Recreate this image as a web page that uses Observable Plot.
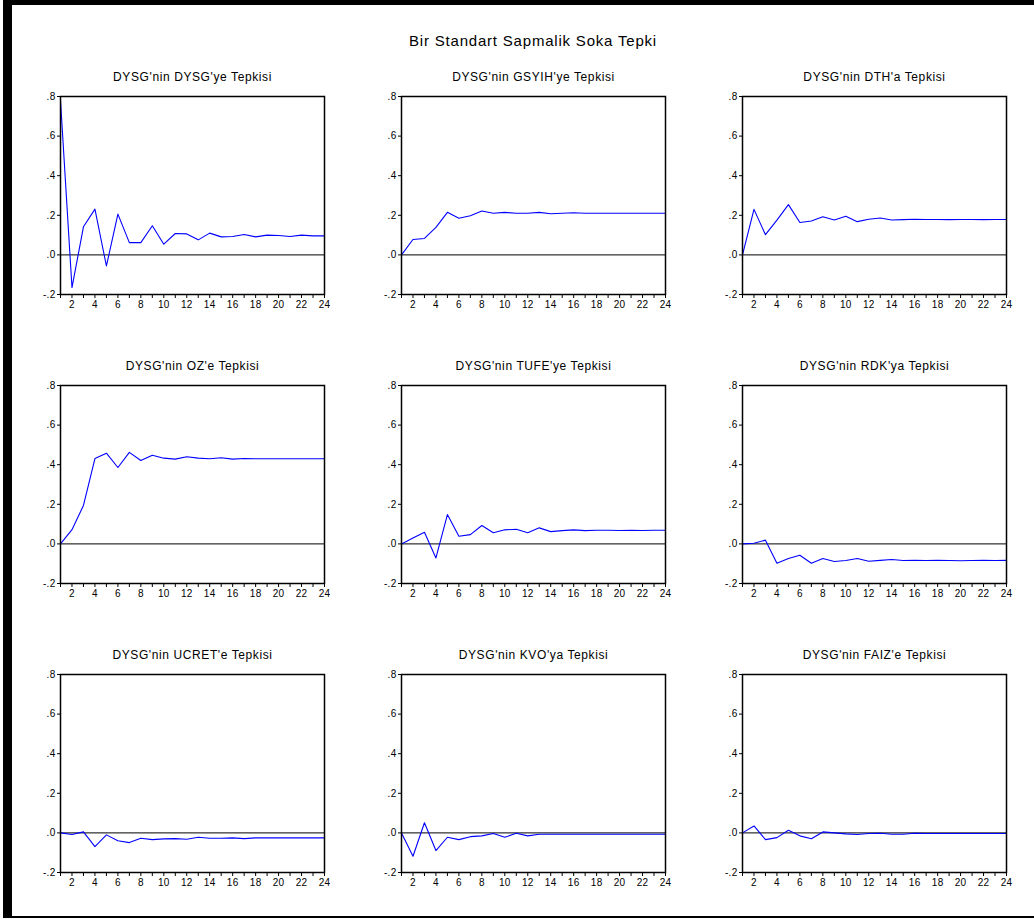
<!DOCTYPE html>
<html><head><meta charset="utf-8">
<script src="https://cdn.jsdelivr.net/npm/d3@7"></script>
<script src="https://cdn.jsdelivr.net/npm/@observablehq/plot@0.6"></script>
<style>
body{margin:0;background:#fff;font-family:"Liberation Sans",Arial,sans-serif;}
#page{position:relative;width:1034px;height:919px;overflow:hidden;background:#fff;}
#border{position:absolute;left:3px;top:0;width:1031px;height:918px;box-sizing:border-box;border-top:5px solid #000;border-left:9px solid #000;border-bottom:2px solid #000;}
#title{position:absolute;top:32px;left:0;width:1066px;text-align:center;font-size:15px;letter-spacing:0.8px;color:#000;}
.panel{position:absolute;}
.panel svg text{letter-spacing:0.3px;}
.panel svg g[aria-label='text'] text{letter-spacing:0.6px;}
</style>
</head><body>
<div id="page"><div id="border"></div><div id="title">Bir Standart Sapmalik Soka Tepki</div></div>
<script>
const mainTitle = "Bir Standart Sapmalik Soka Tepki";
const periods = d3.range(1, 25);
const yTicks = [-0.2, 0, 0.2, 0.4, 0.6, 0.8];
const panelTitles = [
  "DYSG'nin DYSG'ye Tepkisi", "DYSG'nin GSYIH'ye Tepkisi", "DYSG'nin DTH'a Tepkisi",
  "DYSG'nin OZ'e Tepkisi", "DYSG'nin TUFE'ye Tepkisi", "DYSG'nin RDK'ya Tepkisi",
  "DYSG'nin UCRET'e Tepkisi", "DYSG'nin KVO'ya Tepkisi", "DYSG'nin FAIZ'e Tepkisi"
];
const dysg  = [0.78,-0.165,0.142,0.231,-0.056,0.206,0.062,0.062,0.147,0.054,0.108,0.106,0.076,0.110,0.091,0.093,0.103,0.091,0.100,0.098,0.093,0.100,0.096,0.096];
const gsyih = [0,0.078,0.083,0.139,0.215,0.185,0.198,0.222,0.210,0.215,0.210,0.210,0.215,0.208,0.210,0.213,0.210,0.210,0.210,0.210,0.210,0.210,0.210,0.210];
const dth   = [0,0.230,0.102,0.176,0.254,0.164,0.171,0.193,0.176,0.195,0.168,0.180,0.186,0.176,0.178,0.180,0.179,0.179,0.178,0.179,0.179,0.178,0.179,0.179];
const oz    = [0,0.072,0.194,0.431,0.458,0.386,0.462,0.421,0.448,0.433,0.428,0.440,0.433,0.430,0.435,0.428,0.431,0.430,0.430,0.430,0.430,0.430,0.430,0.430];
const tufe  = [0,0.030,0.059,-0.071,0.148,0.039,0.047,0.093,0.056,0.071,0.074,0.056,0.081,0.062,0.067,0.071,0.067,0.069,0.069,0.068,0.069,0.068,0.069,0.069];
const rdk   = [0,0.003,0.019,-0.098,-0.074,-0.057,-0.098,-0.074,-0.089,-0.084,-0.074,-0.088,-0.083,-0.079,-0.084,-0.083,-0.084,-0.083,-0.084,-0.085,-0.084,-0.083,-0.084,-0.083];
const ucret = [0,-0.008,0.005,-0.069,-0.010,-0.040,-0.049,-0.027,-0.034,-0.030,-0.029,-0.032,-0.022,-0.027,-0.027,-0.025,-0.029,-0.025,-0.025,-0.025,-0.025,-0.025,-0.025,-0.025];
const kvo   = [0,-0.118,0.051,-0.089,-0.022,-0.034,-0.019,-0.015,-0.003,-0.022,-0.002,-0.015,-0.007,-0.007,-0.007,-0.007,-0.007,-0.007,-0.007,-0.007,-0.007,-0.007,-0.007,-0.007];
const faiz  = [0,0.035,-0.034,-0.024,0.013,-0.015,-0.030,0.005,0,-0.005,-0.008,-0.003,-0.002,-0.007,-0.007,-0.002,-0.003,-0.003,-0.003,-0.003,-0.003,-0.003,-0.003,-0.003];
const seriesList = [dysg, gsyih, dth, oz, tufe, rdk, ucret, kvo, faiz];

const colLefts = [60, 401, 742];
const rowTops = [96, 385, 674];
const mL = 36, mR = 6, mT = 36, mB = 24, pw = 264, ph = 198;
const fmt = v => (v < 0 ? "-" : "") + "." + Math.round(Math.abs(v) * 10);
const page = document.getElementById("page");

seriesList.forEach((vals, i) => {
  const data = periods.map((p, j) => ({period: p, value: vals[j]}));
  const plot = Plot.plot({
    width: mL + pw + mR, height: mT + ph + mB,
    marginLeft: mL, marginRight: mR, marginTop: mT, marginBottom: mB,
    style: {fontFamily: "'Liberation Sans', Arial, sans-serif", fontSize: "10px", background: "transparent", color: "black", overflow: "visible"},
    x: {domain: [1, 24]},
    y: {domain: [-0.2, 0.8]},
    marks: [
      Plot.axisY({ticks: yTicks, tickFormat: fmt, tickSize: 3, tickPadding: 2, label: null}),
      Plot.axisX({ticks: periods, tickFormat: d => d % 2 === 0 ? String(d) : "", tickSize: 4, tickPadding: 2, label: null}),
      Plot.ruleY([0], {stroke: "black", strokeWidth: 1}),
      Plot.line(data, {x: "period", y: "value", stroke: "#0000ff", strokeWidth: 1.1}),
      Plot.frame({stroke: "black", strokeWidth: 1.5}),
      Plot.text([panelTitles[i]], {frameAnchor: "top", lineAnchor: "middle", dy: -19, fontSize: 12, text: d => d})
    ]
  });
  const div = document.createElement("div");
  div.className = "panel";
  div.style.left = (colLefts[i % 3] - mL) + "px";
  div.style.top = (rowTops[Math.floor(i / 3)] - mT) + "px";
  div.appendChild(plot);
  page.appendChild(div);
});
</script>
</body></html>
